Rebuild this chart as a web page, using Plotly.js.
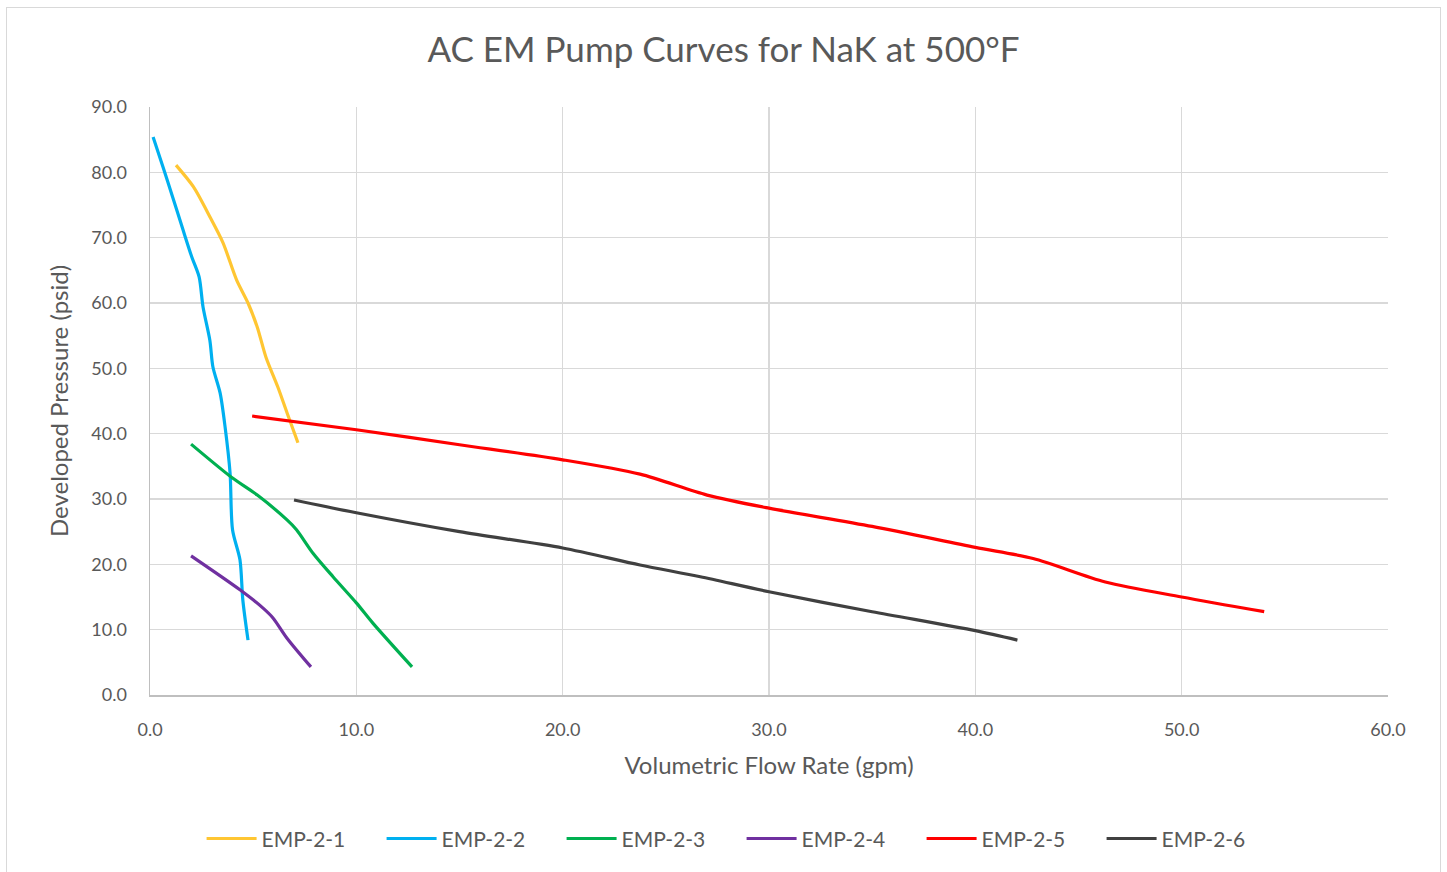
<!DOCTYPE html>
<html>
<head>
<meta charset="utf-8">
<script src="https://cdn.plot.ly/plotly-3.0.1.min.js"></script>
<style>
html,body{margin:0;padding:0;background:#fff;}
#wrap{position:relative;width:1447px;height:872px;}
#chart{width:1447px;height:872px;}
#frame{position:absolute;left:6px;top:7px;width:1433px;height:870px;border:1px solid #d9d9d9;pointer-events:none;}
</style>
</head>
<body>
<div id="wrap"><div id="chart"></div><div id="frame"></div></div>
<script>
const names = ["EMP-2-1","EMP-2-2","EMP-2-3","EMP-2-4","EMP-2-5","EMP-2-6"];
const colors = ["#FFC632","#00B0F0","#00B050","#7030A0","#FF0000","#404040"];

const x1 = [1.26, 2.1, 2.9, 3.54, 4.2, 4.75, 5.2, 5.62, 6.2, 6.64, 7.17];
const y1 = [81.1, 77.8, 73.2, 69.2, 63.5, 60.0, 56.3, 51.7, 47.1, 43.2, 38.6];

const x2 = [0.15, 0.63, 1.1, 1.6, 2.03, 2.38, 2.57, 2.9, 3.05, 3.4, 3.64, 3.88, 4.0, 4.36, 4.5, 4.75];
const y2 = [85.4, 80.8, 76.2, 71.2, 67.0, 64.0, 59.4, 54.3, 50.2, 46.2, 41.0, 34.0, 25.3, 20.7, 14.5, 8.4];

const x3 = [1.99, 4.0, 5.2, 6.64, 7.1, 7.9, 8.87, 10.0, 10.8, 12.7];
const y3 = [38.4, 33.2, 30.6, 26.8, 25.3, 21.7, 18.1, 14.1, 11.0, 4.3];

const x4 = [1.99, 4.36, 5.48, 5.96, 6.64, 7.8];
const y4 = [21.3, 16.1, 13.3, 11.8, 8.7, 4.3];

const x5 = [4.95, 10.0, 15.0, 20.0, 23.75, 27.0, 30.0, 35.0, 40.0, 42.8, 46.3, 50.0, 54.0];
const y5 = [42.7, 40.6, 38.3, 36.0, 33.8, 30.6, 28.6, 25.8, 22.6, 20.9, 17.3, 15.0, 12.75];

const x6 = [6.98, 10.0, 15.0, 20.0, 23.75, 26.67, 30.0, 35.0, 40.0, 42.04];
const y6 = [29.85, 27.9, 25.0, 22.5, 19.9, 18.1, 15.8, 12.75, 9.85, 8.4];

const xs = [x1,x2,x3,x4,x5,x6];
const ys = [y1,y2,y3,y4,y5,y6];

const FONT = "Lato, 'Open Sans', sans-serif";
const traces = names.map((n,i)=>({
  x: xs[i], y: ys[i], name: n, type: 'scatter', mode: 'lines',
  line: {color: colors[i], width: 3.2, shape: 'spline', smoothing: 0.8}
}));

const layout = {
  width: 1447, height: 872,
  margin: {l:150, r:59, t:107, b:177},
  paper_bgcolor: 'rgba(0,0,0,0)', plot_bgcolor: '#fff',
  font: {family: FONT, color: '#595959', size: 18},
  title: {text: 'AC EM Pump Curves for NaK at 500°F', x: 0.5, xref: 'container', y: 0.943, yanchor: 'middle',
          font: {size: 35, color: '#595959', family: FONT}},
  xaxis: {
    range: [0, 60], dtick: 10, tick0: 0, tickformat: '.1f',
    showgrid: true, gridcolor: '#d9d9d9', gridwidth: 1.5,
    showline: true, linecolor: '#bfbfbf', linewidth: 1.5,
    zeroline: false, ticks: '', ticklabelstandoff: 18,
    tickfont: {size: 18, color: '#595959'},
    title: {text: 'Volumetric Flow Rate (gpm)', font: {size: 24, color: '#595959'}, standoff: 18}
  },
  yaxis: {
    range: [0, 90], dtick: 10, tick0: 0, tickformat: '.1f',
    showgrid: true, gridcolor: '#d9d9d9', gridwidth: 1.5,
    showline: true, linecolor: '#bfbfbf', linewidth: 1.5,
    zeroline: false, ticks: '', ticklabelstandoff: 18,
    tickfont: {size: 18, color: '#595959'},
    title: {text: 'Developed Pressure (psid)', font: {size: 24, color: '#595959'}, standoff: 16}
  },
  showlegend: true,
  legend: {orientation: 'h', x: 0.5125, xref: 'container', xanchor: 'center', y: 0.038, yref: 'container', yanchor: 'middle',
           font: {size: 21, color: '#595959'}, entrywidth: 115, entrywidthmode: 'pixels', itemwidth: 50, tracegroupgap: 0}
};

Plotly.newPlot('chart', traces, layout, {displayModeBar: false, staticPlot: true});
</script>
</body>
</html>
